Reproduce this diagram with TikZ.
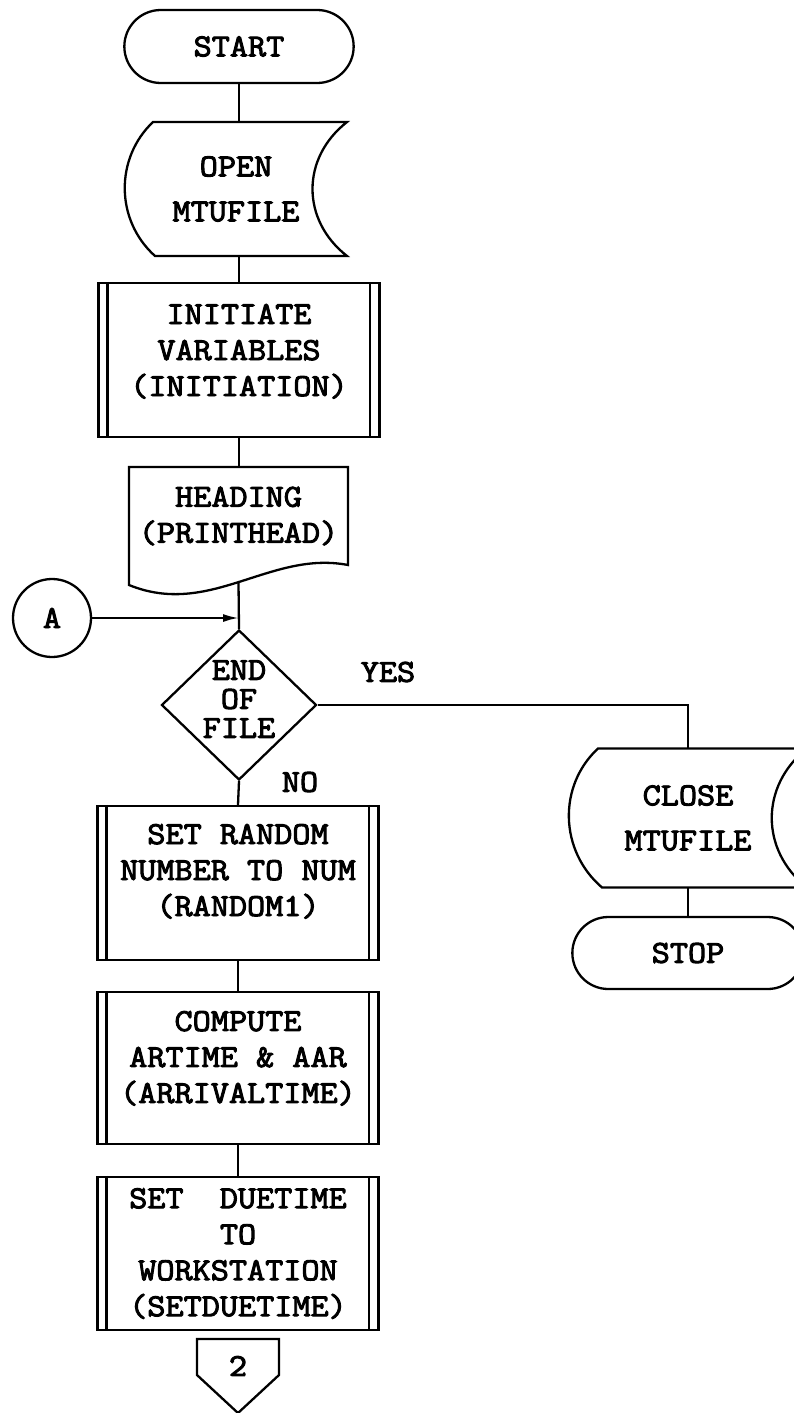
\documentclass[tikz,border=0pt]{standalone}
\usepackage{fontspec}
\setmonofont{Latin Modern Mono}[FakeStretch=1.1,FakeBold=3]
\usetikzlibrary{shapes.geometric,shapes.misc,arrows.meta,positioning,calc}
\newcommand{\chartfont}{\ttfamily\fontsize{32}{36}\selectfont}

\begin{document}
\begin{tikzpicture}[x=1pt, y=-1pt, line width=2.3pt,
    every node/.style={font=\chartfont},
    term/.style={rounded rectangle, draw, minimum width=236pt, minimum height=73pt},
    process/.style={rectangle, draw, minimum width=281pt, align=center},
    store/.style={rectangle, outer sep=0pt, inner sep=0pt, align=center, font=\ttfamily\fontsize{32}{45}\selectfont},
    doc/.style={rectangle, outer sep=0pt, inner sep=0pt, minimum width=219pt, minimum height=98pt, align=center},
    decision/.style={diamond, draw, inner sep=0pt, minimum width=155pt, minimum height=150pt},
    connector/.style={circle, draw, minimum size=78pt, inner sep=0pt}
]
\useasboundingbox (0,0) rectangle (794,1413);
\clip (0,0) rectangle (794,1413);

% Start
\node (start) [term] at (239,46.5) {START};

% Open MTUFILE
\node (open) [store, minimum width=222pt, minimum height=134pt] at (236,189) {OPEN\\MTUFILE};
\draw ($(open.north west)+(28,0)$) -- (open.north east) .. controls +(-46,36) and +(-46,-36) .. (open.south east)
  -- ($(open.south west)+(30,0)$) .. controls +(-40,-36) and +(-38,36) .. cycle;

% Initiation
\node (init) [process, minimum height=154pt, text depth=20pt] at (239,360) {INITIATE\\VARIABLES\\(INITIATION)};

% Heading
\node (head) [doc] at (238.5,516) {HEADING\\(PRINTHEAD)};
\draw (head.north west) -- (head.north east) -- (head.south east) .. controls +(-78,-15) and +(81,33) .. ($(head.south west)+(0,20)$) -- cycle;
\coordinate (headout) at ($(head.south)+(0,17)$);

% Connector A
\node (A) [connector] at (52,618) {A};

% End of file
\node (eof) [decision] at (239,705) {};
\node (eoftext) [align=center, font=\ttfamily\fontsize{32}{29}\selectfont] at ($(eof)+(0,-6)$) {END\\OF\\FILE};
\node (yes) at (388,672) {YES};
\node (no) at (300,782) {NO};

% Close MTUFILE
\node (close) [store, minimum width=238pt, minimum height=139pt] at (688,818) {CLOSE\\MTUFILE};
\draw ($(close.north west)+(29,0)$) -- (close.north east) .. controls +(-47,37) and +(-47,-37) .. (close.south east)
  -- ($(close.south west)+(33,0)$) .. controls +(-43,-37) and +(-40,37) .. cycle;

% Stop
\node (stop) [term, minimum width=238pt, minimum height=72pt] at (688,953) {STOP};

% Processes
\node (rand) [process, minimum height=154pt, text depth=26pt] at (238,883) {SET RANDOM\\NUMBER TO NUM\\(RANDOM1)};
\node (comp) [process, minimum height=152pt, text depth=22pt] at (238,1068) {COMPUTE\\ARTIME \& AAR\\(ARRIVALTIME)};
\node (due) [process, minimum height=153pt] at (238,1253.5) {SET~~DUETIME\\TO\\WORKSTATION\\(SETDUETIME)};
\foreach \n in {init,rand,comp,due} {
  \draw ($(\n.north west)+(10,0)$) -- ($(\n.south west)+(10,0)$);
  \draw ($(\n.north east)+(-11,0)$) -- ($(\n.south east)+(-11,0)$);
}

% Off-page connector
\node (page2) at (238,1366) {2};
\draw ($(page2)+(-41,-27)$) -- ($(page2)+(41,-27)$) -- ($(page2)+(41,9)$) -- ($(page2)+(0,47)$) -- ($(page2)+(-41,9)$) -- cycle;

% Connections
\draw (start.south) -- (start.south |- open.north);
\draw (open.south -| init.north) -- (init.north);
\draw (init.south) -- (init.south |- head.north);
\draw (headout) -- (eof.north);
\draw[-{Latex[length=16pt,width=8pt]}] (A.east) -- (A -| eof.north);
\draw (eof.east) -| (close.north);
\draw (close.south) -- (stop.north);
\draw (eof.south) -- (rand.north);
\draw (rand.south) -- (comp.north);
\draw (comp.south) -- (due.north);

\end{tikzpicture}
\end{document}
